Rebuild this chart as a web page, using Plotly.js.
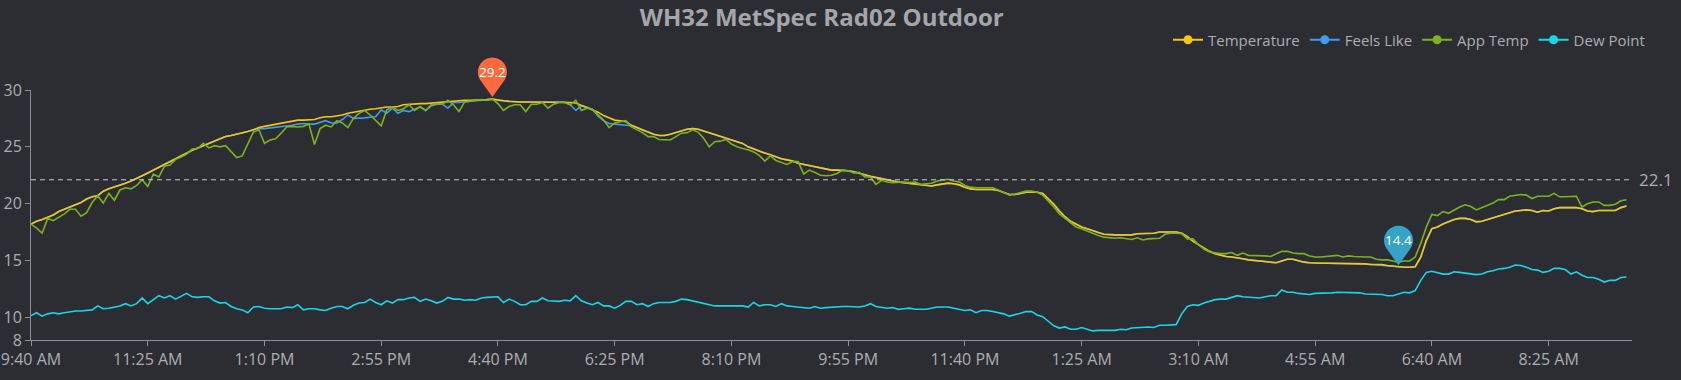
<!DOCTYPE html>
<html>
<head>
<meta charset="utf-8">
<script src="https://cdn.plot.ly/plotly-3.0.1.min.js"></script>
<style>
  html, body { margin: 0; padding: 0; background: #2b2d33; }
  #chart { width: 1681px; height: 380px; }
</style>
</head>
<body>
<div id="chart"></div>
<script>
// ---- data (5-minute readings, 9:40 AM -> 9:35 AM next day) ----
const tickLabels = ['9:40 AM','11:25 AM','1:10 PM','2:55 PM','4:40 PM','6:25 PM','8:10 PM','9:55 PM','11:40 PM','1:25 AM','3:10 AM','4:55 AM','6:40 AM','8:25 AM'];
const seriesNames = ['Temperature','Feels Like','App Temp','Dew Point'];
const avgTemperature = 22.1;

const temperature = [
18.2,18.45,18.6,18.8,19.0,19.3,19.5,19.7,19.9,20.1,
20.4,20.6,20.7,21.1,21.3,21.45,21.6,21.8,22.0,22.2,
22.45,22.7,22.95,23.25,23.5,23.75,24.0,24.2,24.45,24.7,
24.9,25.1,25.3,25.5,25.75,25.9,26.0,26.1,26.2,26.35,
26.5,26.7,26.8,26.9,27.0,27.1,27.2,27.3,27.35,27.35,
27.4,27.4,27.55,27.65,27.65,27.7,27.8,27.95,28.05,28.15,
28.25,28.3,28.35,28.45,28.5,28.5,28.55,28.7,28.75,28.8,
28.8,28.8,28.85,28.9,28.95,29.0,29.0,29.05,29.1,29.1,
29.1,29.15,29.15,29.2,29.1,29.05,29.0,28.95,28.95,28.95,
28.95,28.9,28.9,28.9,28.95,28.95,28.95,28.9,28.85,28.65,
28.5,28.3,28.05,27.75,27.55,27.35,27.3,27.2,26.9,26.7,
26.45,26.3,26.1,26.0,26.0,26.1,26.25,26.45,26.55,26.6,
26.55,26.4,26.25,26.05,25.95,25.8,25.65,25.5,25.3,25.0,
24.8,24.6,24.45,24.3,24.1,23.95,23.85,23.75,23.55,23.45,
23.35,23.25,23.1,23.0,22.95,22.95,22.95,22.9,22.8,22.7,
22.55,22.4,22.3,22.2,22.05,21.95,21.9,21.85,21.8,21.75,
21.7,21.6,21.55,21.65,21.75,21.8,21.75,21.65,21.45,21.3,
21.25,21.25,21.25,21.25,21.15,21.0,20.8,20.8,20.9,21.0,
21.0,21.0,20.9,20.45,19.95,19.35,18.85,18.45,18.2,17.95,
17.8,17.6,17.45,17.3,17.25,17.25,17.25,17.25,17.25,17.35,
17.35,17.4,17.4,17.5,17.5,17.5,17.5,17.4,17.1,16.7,
16.4,16.1,15.8,15.6,15.45,15.35,15.3,15.25,15.15,15.05,
15.0,14.95,14.85,14.8,14.8,14.95,15.1,15.1,14.95,14.85,
14.8,14.75,14.75,14.75,14.75,14.75,14.75,14.75,14.75,14.75,
14.7,14.65,14.65,14.65,14.55,14.5,14.4,14.4,14.4,14.45,
15.3,16.75,17.8,17.95,18.2,18.4,18.6,18.7,18.7,18.6,
18.4,18.45,18.6,18.75,18.95,19.05,19.2,19.35,19.4,19.45,
19.4,19.25,19.4,19.35,19.55,19.65,19.65,19.65,19.65,19.55,
19.35,19.3,19.4,19.4,19.4,19.4,19.65,19.8
];

const feelsLike = [
18.2,18.45,18.6,18.8,19.0,19.3,19.5,19.7,19.9,20.1,
20.4,20.6,20.7,21.1,21.3,21.45,21.6,21.8,22.0,22.2,
22.45,22.7,22.95,23.25,23.5,23.75,24.0,24.2,24.45,24.7,
24.9,25.1,25.3,25.5,25.75,25.9,26.0,26.1,26.2,26.35,
26.5,26.6,26.6,26.65,26.7,26.75,26.8,26.9,27.0,27.05,
27.0,27.0,27.15,27.3,27.1,27.1,27.4,27.8,27.5,27.5,
27.55,27.6,27.65,28.25,27.95,28.4,27.95,28.2,28.1,28.3,
28.5,28.2,28.6,28.75,28.75,28.4,28.9,28.9,28.95,29.0,
29.05,29.1,29.1,29.2,29.1,29.05,29.0,28.95,28.95,28.95,
28.95,28.9,28.9,28.9,28.95,28.95,28.95,28.7,28.2,28.6,
28.5,28.3,27.7,27.3,27.05,27.0,26.95,26.95,26.85,26.7,
26.45,26.3,26.1,26.0,26.0,26.1,26.25,26.45,26.55,26.6,
26.55,26.4,26.25,26.05,25.95,25.8,25.65,25.5,25.3,25.0,
24.8,24.6,24.45,24.3,24.1,23.95,23.85,23.75,23.55,23.45,
23.35,23.25,23.1,23.0,22.95,22.95,22.95,22.9,22.8,22.7,
22.55,22.4,22.3,22.2,22.05,21.95,21.9,21.85,21.8,21.75,
21.7,21.6,21.55,21.65,21.75,21.8,21.75,21.65,21.45,21.3,
21.25,21.25,21.25,21.25,21.15,21.0,20.8,20.8,20.9,21.0,
21.0,21.0,20.9,20.45,19.95,19.35,18.85,18.45,18.2,17.95,
17.8,17.6,17.45,17.3,17.25,17.25,17.25,17.25,17.25,17.35,
17.35,17.4,17.4,17.5,17.5,17.5,17.5,17.4,17.1,16.7,
16.4,16.1,15.8,15.6,15.45,15.35,15.3,15.25,15.15,15.05,
15.0,14.95,14.85,14.8,14.8,14.95,15.1,15.1,14.95,14.85,
14.8,14.75,14.75,14.75,14.75,14.75,14.75,14.75,14.75,14.75,
14.7,14.65,14.6,14.6,14.5,14.45,14.4,14.4,14.4,14.45,
15.3,16.75,17.8,17.95,18.2,18.4,18.6,18.7,18.7,18.6,
18.4,18.45,18.6,18.75,18.95,19.05,19.2,19.35,19.4,19.45,
19.4,19.25,19.4,19.35,19.55,19.65,19.65,19.65,19.65,19.55,
19.35,19.3,19.4,19.4,19.4,19.4,19.65,19.8
];

const appTemp = [
18.2,17.85,17.4,18.7,18.5,18.8,19.1,19.5,19.5,18.9,
19.2,20.1,20.7,20.05,20.9,20.3,21.2,21.4,21.3,21.6,
22.1,21.5,22.6,22.35,23.3,23.4,23.9,24.1,24.35,24.8,
24.85,25.3,24.9,25.1,25.0,25.1,24.55,24.05,24.2,25.3,
26.3,26.5,25.3,25.6,25.7,26.2,26.75,26.8,26.75,26.8,
27.0,25.2,26.6,26.9,26.75,27.3,27.1,26.7,27.5,27.95,
28.2,27.8,27.3,26.85,28.25,28.5,28.2,28.35,28.7,28.2,
28.55,28.2,28.7,28.8,28.75,29.1,28.7,28.1,28.95,29.05,
29.1,29.15,29.1,29.2,28.8,28.2,28.55,28.7,28.7,28.1,
28.75,28.75,28.9,28.4,28.75,28.9,28.9,28.7,29.1,28.2,
28.4,28.3,27.8,27.35,26.7,27.1,27.2,27.3,26.75,26.5,
26.25,25.9,25.9,25.65,25.65,25.6,25.9,26.2,26.25,26.5,
26.3,25.75,25.0,25.45,25.5,25.65,25.25,25.0,24.85,24.75,
24.55,24.25,23.75,24.2,23.8,23.6,23.45,23.7,23.7,22.6,
22.95,22.75,22.5,22.45,22.5,22.65,22.95,22.9,22.7,22.75,
22.35,22.35,21.7,22.05,21.9,21.85,21.9,21.9,21.85,21.9,
21.7,21.75,21.8,22.0,22.1,22.15,22.0,21.9,21.6,21.45,
21.4,21.4,21.4,21.4,21.2,20.95,20.75,20.85,21.0,21.1,
21.1,21.0,20.75,20.25,19.7,19.1,18.7,18.3,17.95,17.8,
17.6,17.35,17.2,17.05,17.0,16.95,17.0,16.95,16.85,17.0,
16.8,16.9,16.9,16.95,17.3,17.4,17.4,17.35,16.9,16.9,
16.4,16.0,15.75,15.65,15.6,15.6,15.7,15.45,15.65,15.45,
15.45,15.45,15.4,15.35,15.6,15.8,15.8,15.65,15.6,15.6,
15.4,15.3,15.3,15.35,15.35,15.45,15.3,15.4,15.35,15.3,
15.3,15.3,15.1,15.05,15.05,14.95,14.85,14.95,14.95,15.3,
16.5,17.95,19.05,18.95,19.3,19.15,19.45,19.7,19.9,19.75,
19.45,19.65,19.85,20.05,20.35,20.35,20.65,20.75,20.8,20.75,
20.45,20.65,20.65,20.65,20.9,20.6,20.6,20.65,20.65,19.7,
20.0,20.15,20.15,19.85,19.85,19.95,20.25,20.35
];

const dewPoint = [
10.15,10.4,10.1,10.3,10.4,10.3,10.4,10.5,10.55,10.55,
10.6,10.65,11.0,10.75,10.8,10.9,11.0,11.2,11.0,11.2,
11.7,11.2,11.55,11.9,11.7,11.9,11.6,11.85,12.1,11.8,
11.75,11.8,11.8,11.45,11.25,11.3,10.95,10.75,10.65,10.4,
10.9,10.95,10.8,10.75,10.75,10.75,10.9,10.85,11.1,10.65,
10.75,10.75,10.65,10.6,10.8,10.95,10.95,10.75,11.05,11.25,
11.3,11.6,11.3,11.1,11.45,11.25,11.55,11.55,11.7,11.75,
11.4,11.6,11.45,11.25,11.4,11.75,11.6,11.6,11.5,11.55,
11.5,11.7,11.75,11.75,11.8,11.3,11.6,11.4,11.1,11.1,
11.4,11.4,11.7,11.45,11.4,11.4,11.5,11.45,11.9,11.45,
11.25,11.1,11.3,11.0,11.0,10.8,11.05,11.4,11.4,11.1,
11.2,10.95,11.2,11.3,11.3,11.3,11.4,11.6,11.55,11.45,
11.35,11.25,11.1,11.0,11.0,11.0,11.0,11.0,11.0,10.9,
11.3,11.0,11.1,11.1,10.95,11.2,11.0,10.95,10.9,10.8,
10.8,10.95,10.8,10.85,10.9,10.9,10.95,10.95,10.95,10.9,
11.0,11.2,10.95,10.9,10.8,10.85,10.7,10.75,10.8,10.7,
10.7,10.7,10.8,10.9,10.9,10.9,10.8,10.7,10.6,10.65,
10.4,10.6,10.6,10.5,10.4,10.3,10.1,10.2,10.35,10.5,
10.5,10.2,10.05,9.65,9.25,9.05,9.15,8.95,8.95,9.1,
8.95,8.8,8.85,8.85,8.85,8.85,8.95,8.9,9.05,9.1,
9.15,9.15,9.1,9.3,9.3,9.3,9.35,10.3,10.95,11.1,
11.05,11.25,11.4,11.55,11.6,11.6,11.75,11.9,11.8,11.75,
11.7,11.7,11.8,11.9,11.9,12.4,12.2,12.2,12.1,12.05,
12.0,12.1,12.1,12.1,12.15,12.2,12.2,12.2,12.2,12.15,
12.05,12.05,12.05,12.0,11.9,11.9,12.05,12.2,12.15,12.35,
13.25,13.95,14.05,13.9,13.8,13.8,14.0,13.95,13.9,13.8,
13.75,13.8,14.0,14.1,14.25,14.3,14.4,14.6,14.55,14.4,
14.2,14.15,13.95,14.05,14.3,14.3,14.2,13.8,14.0,13.7,
13.5,13.5,13.35,13.1,13.25,13.25,13.5,13.55
];

// ---- styling ----
const FONT = 'Open Sans, Noto Sans, sans-serif';
const BG = '#2b2d33';
const AXIS = '#8d9096';
const TXT = '#abadb1';
const colors = { 'Temperature':'#f5c518', 'Feels Like':'#3d9bf0', 'App Temp':'#7cb21e', 'Dew Point':'#19d6e6' };
const seriesData = { 'Temperature':temperature, 'Feels Like':feelsLike, 'App Temp':appTemp, 'Dew Point':dewPoint };
const rank = { 'Temperature':1, 'Feels Like':2, 'App Temp':3, 'Dew Point':4 };
const nCategories = 289;          // 9:40 AM .. 9:40 AM next day
const labelInterval = 21;         // every 105 minutes
const Y_RANGE = [8, 30];

const idx = temperature.map((_, i) => i);
const traces = [];
// draw order: Feels Like underneath Temperature
['Feels Like','Temperature','App Temp','Dew Point'].forEach(name => {
  traces.push({
    type:'scatter', mode:'lines', name, x: idx, y: seriesData[name],
    line:{color: colors[name], width:1.6}, showlegend:false, hoverinfo:'x+y'
  });
});
// legend entries (line + dot, like the original)
seriesNames.forEach(name => {
  traces.push({
    type:'scatter', mode:'lines+markers', name, x:[null], y:[null],
    line:{color: colors[name], width:2}, marker:{color: colors[name], size:9},
    legendrank: rank[name], showlegend:true
  });
});

// ---- max / min pins ----
function pinPath(r, d, off) {
  const a = Math.acos(r / d);
  const cy = d + off;
  const pts = [];
  const start = 1.5*Math.PI - a, end = -0.5*Math.PI + a, n = 40;
  for (let k = 0; k <= n; k++) {
    const t = start + (end - start) * k / n;
    pts.push([r*Math.cos(t), cy + r*Math.sin(t)]);
  }
  let p = 'M0,' + off + ' ';
  pts.forEach(q => { p += 'L' + q[0].toFixed(2) + ',' + q[1].toFixed(2) + ' '; });
  return p + 'Z';
}
const maxVal = Math.max(...temperature), maxIdx = temperature.indexOf(maxVal);
const minVal = Math.min(...temperature), minIdx = temperature.indexOf(minVal);
const PIN_R = 14.5, PIN_D = 25, PIN_OFF = 2;
// y anchored in plot-fraction (so the pin is not clipped at the top of the plot)
const yFrac = v => (v - Y_RANGE[0]) / (Y_RANGE[1] - Y_RANGE[0]);

const shapes = [
  { type:'line', xref:'x', yref:'y', x0:0, x1:nCategories-1, y0:avgTemperature, y1:avgTemperature,
    line:{color:'#c9cacc', width:1, dash:'5px,4px'}, layer:'above' },
  { type:'path', xref:'x', yref:'paper', xsizemode:'pixel', ysizemode:'pixel',
    xanchor:maxIdx, yanchor:yFrac(maxVal), path: pinPath(PIN_R, PIN_D, PIN_OFF),
    fillcolor:'#fc6a3f', line:{width:0}, layer:'above' },
  { type:'path', xref:'x', yref:'paper', xsizemode:'pixel', ysizemode:'pixel',
    xanchor:minIdx, yanchor:yFrac(minVal), path: pinPath(PIN_R, PIN_D, PIN_OFF),
    fillcolor:'#35a3c8', line:{width:0}, layer:'above' }
];
const annotations = [
  { x:maxIdx, y:maxVal, xref:'x', yref:'y', text:String(maxVal), showarrow:false,
    yshift: PIN_D + PIN_OFF, font:{family:FONT, size:13.5, color:'#ffffff'} },
  { x:minIdx, y:minVal, xref:'x', yref:'y', text:String(minVal), showarrow:false,
    yshift: PIN_D + PIN_OFF, font:{family:FONT, size:13.5, color:'#ffffff'} },
  { x:nCategories-1, y:avgTemperature, xref:'x', yref:'y', text:String(avgTemperature), showarrow:false,
    xanchor:'left', xshift:5, font:{family:FONT, size:17, color:TXT} }
];

const layout = {
  width:1681, height:380,
  paper_bgcolor:BG, plot_bgcolor:BG,
  margin:{l:31, r:49, t:90, b:40, pad:0},
  font:{family:FONT, color:TXT},
  title:{ text:'<b>WH32 MetSpec Rad02 Outdoor</b>', xref:'container', yref:'container',
          x:821.7/1681, xanchor:'center', y:1-18/380, yanchor:'middle',
          font:{family:FONT, size:24, color:'#a4a6aa'} },
  showlegend:true,
  legend:{ orientation:'h', xref:'container', yref:'container', x:1650/1681, xanchor:'right',
           y:1-40/380, yanchor:'middle', font:{family:FONT, size:15, color:TXT},
           bgcolor:'rgba(0,0,0,0)', itemwidth:30, itemclick:false, itemdoubleclick:false },
  xaxis:{ range:[0, nCategories-1], tickmode:'array',
          tickvals: tickLabels.map((_, k) => k*labelInterval), ticktext: tickLabels,
          showgrid:false, zeroline:false, showline:true, linecolor:AXIS, linewidth:1,
          ticks:'outside', ticklen:5, tickcolor:AXIS, tickwidth:1,
          tickfont:{family:FONT, size:16, color:TXT}, fixedrange:true, automargin:false },
  yaxis:{ range:Y_RANGE, tickmode:'array', tickvals:[8,10,15,20,25,30],
          showgrid:false, zeroline:false, showline:true, linecolor:AXIS, linewidth:1,
          ticks:'outside', ticklen:5, tickcolor:AXIS, tickwidth:1,
          tickfont:{family:FONT, size:16, color:TXT}, fixedrange:true, automargin:false },
  shapes, annotations
};

Plotly.newPlot('chart', traces, layout, {displayModeBar:false});
</script>
</body>
</html>
